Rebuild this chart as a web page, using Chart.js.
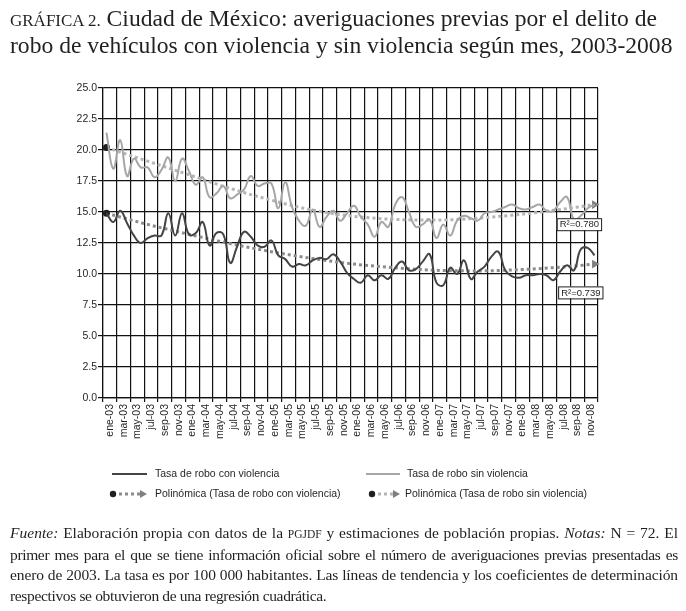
<!DOCTYPE html>
<html>
<head>
<meta charset="utf-8">
<script src="https://cdn.jsdelivr.net/npm/chart.js@4.4.1/dist/chart.umd.min.js"></script>
<style>
  body { margin: 0; background: #fff; }
  #page { position: relative; width: 686px; height: 611px; overflow: hidden; color: #231f20; }
  #chart { position: absolute; left: 0; top: 0; }
  #title { position: absolute; left: 10px; top: 6px; font-family: "Liberation Serif", serif; font-size: 23.6px; line-height: 25px; white-space: nowrap; }
  #title .sc { font-size: 17px; }
  #note { position: absolute; left: 10px; top: 523px; width: 668px; font-family: "Liberation Serif", serif; font-size: 15.5px; letter-spacing: -0.35px; line-height: 20.5px; }
  #note div { text-align: justify; text-align-last: justify; white-space: nowrap; }
  #note div.l1 { letter-spacing: 0.02px; }
  #note div.l3 { letter-spacing: -0.1px; }
  #note div.last { text-align-last: left; }
  #note .sc { font-size: 11.5px; letter-spacing: 0; }
</style>
</head>
<body>
<div id="page">
  <canvas id="chart" width="686" height="611"></canvas>
  <div id="title"><span class="sc">GRÁFICA 2.</span> Ciudad de México: averiguaciones previas por el delito de<br>robo de vehículos con violencia y sin violencia según mes, 2003-2008</div>
  <div id="note">
    <div class="l1"><i>Fuente:</i> Elaboración propia con datos de la <span class="sc">PGJDF</span> y estimaciones de población propias. <i>Notas:</i> N = 72. El</div>
    <div>primer mes para el que se tiene información oficial sobre el número de averiguaciones previas presentadas es</div>
    <div class="l3">enero de 2003. La tasa es por 100 000 habitantes. Las líneas de tendencia y los coeficientes de determinación</div>
    <div class="last">respectivos se obtuvieron de una regresión cuadrática.</div>
  </div>
</div>
<script>
// month labels, ene-03 ... dic-08
const MONTHS = ['ene', 'feb', 'mar', 'abr', 'may', 'jun', 'jul', 'ago', 'sep', 'oct', 'nov', 'dic'];
const YEARS = ['03', '04', '05', '06', '07', '08'];
const months = [];
YEARS.forEach(y => MONTHS.forEach(m => months.push(m + '-' + y)));

// rates per 100 000
const conViolencia = [
    14.9, 14.2, 15.1, 14.1, 13.1, 12.5, 12.9, 13.1, 13.1, 14.9, 13.1, 14.9,
    13.2, 13.3, 14.2, 12.3, 13.3, 13.2, 10.9, 12.2, 13.4, 13.0, 12.3, 12.2,
    12.7, 11.5, 11.2, 10.6, 10.8, 10.7, 11.1, 11.3, 11.2, 11.6, 11.0, 10.1,
    9.6, 9.3, 9.9, 9.5, 9.9, 9.6, 10.5, 11.0, 10.3, 10.4, 11.0, 11.6,
    9.3, 9.1, 10.5, 10.0, 11.1, 9.6, 10.2, 10.6, 11.4, 11.8, 10.3, 9.8,
    9.7, 9.9, 9.9, 10.0, 9.9, 9.5, 10.2, 10.7, 10.3, 12.0, 12.1, 11.5
];
const sinViolencia = [
    21.4, 18.5, 20.8, 17.9, 19.3, 18.6, 18.6, 17.8, 18.4, 19.4, 17.5, 19.3,
    18.3, 17.2, 17.8, 16.2, 16.5, 17.1, 16.1, 16.4, 16.8, 17.9, 17.1, 17.3,
    17.3, 15.3, 17.4, 15.4, 14.3, 13.9, 15.2, 13.8, 14.6, 15.1, 14.3, 14.9,
    15.5, 14.6, 14.0, 13.0, 14.2, 13.8, 15.6, 16.2, 15.0, 13.8, 14.0, 14.4,
    12.9, 14.0, 13.1, 14.3, 14.7, 14.5, 14.3, 14.9, 15.0, 15.2, 15.4, 15.6,
    15.3, 15.2, 15.4, 15.6, 15.1, 15.1, 15.8, 16.2, 14.4, 14.7, 15.3, 15.6
];

// quadratic trend lines, read at every sixth month
const trendMonths = [0, 6, 12, 18, 24, 30, 36, 42, 48, 54, 60, 66, 71];
const trendCon = [14.9, 14.0, 13.2, 12.45, 11.8, 11.25, 10.8, 10.5, 10.3, 10.25, 10.35, 10.55, 10.8];
const trendSin = [20.2, 19.1, 18.0, 16.9, 15.95, 15.15, 14.65, 14.4, 14.35, 14.5, 14.8, 15.2, 15.6];

const r2Labels = ['R\u00b2=0.739', 'R\u00b2=0.780'];
const r2Anchors = [[65.7, 9.0], [65.5, 14.5]];   // top-left corner, data units

const yTicks = [0, 2.5, 5, 7.5, 10, 12.5, 15, 17.5, 20, 22.5, 25];

const INK = '#231f20';
const SANS = '"Liberation Sans", Arial, sans-serif';

function trendPoints(values) {
    return trendMonths.map((m, k) => ({ x: m, y: values[k] }));
}

function trendDataset(label, values, color) {
    const last = values.length - 1;
    return {
        label,
        data: trendPoints(values),
        borderColor: color,
        borderWidth: 3,
        borderDash: [3, 3],
        cubicInterpolationMode: 'monotone',
        clip: false,
        pointStyle: c => c.dataIndex === last ? 'triangle' : 'circle',
        rotation: c => c.dataIndex === last ? 90 : 0,
        pointRadius: c => c.dataIndex === 0 ? 3.5 : (c.dataIndex === last ? 5 : 0),
        pointBackgroundColor: c => c.dataIndex === 0 ? INK : '#808080',
        pointBorderWidth: 0
    };
}

const r2Plugin = {
    id: 'r2',
    afterDatasetsDraw(chart) {
        const { ctx, scales: { x, y } } = chart;
        ctx.save();
        ctx.font = '9.5px ' + SANS;
        ctx.textBaseline = 'middle';
        r2Labels.forEach((txt, i) => {
            const px = x.getPixelForValue(r2Anchors[i][0]);
            const py = y.getPixelForValue(r2Anchors[i][1]);
            const w = ctx.measureText(txt).width + 5;
            ctx.fillStyle = '#fff';
            ctx.fillRect(px, py, w, 12);
            ctx.strokeStyle = INK;
            ctx.lineWidth = 1;
            ctx.strokeRect(px + 0.5, py + 0.5, w, 12);
            ctx.fillStyle = INK;
            ctx.fillText(txt, px + 3, py + 6.5);
        });
        ctx.restore();
    }
};

const legendPlugin = {
    id: 'customLegend',
    afterDraw(chart) {
        const { ctx } = chart;
        const ds = chart.data.datasets;
        const items = [
            { d: ds[0], x0: 112, x1: 147, tx: 155, y: 474 },
            { d: ds[1], x0: 366, x1: 400, tx: 407, y: 474 },
            { d: ds[2], x0: 113, x1: 147, tx: 155, y: 494, trend: true },
            { d: ds[3], x0: 372, x1: 400, tx: 405, y: 494, trend: true }
        ];
        ctx.save();
        items.forEach(it => {
            ctx.strokeStyle = it.d.borderColor;
            ctx.lineWidth = it.trend ? 3 : 2;
            ctx.setLineDash(it.trend ? [3, 3] : []);
            ctx.beginPath();
            ctx.moveTo(it.x0, it.y);
            ctx.lineTo(it.trend ? it.x1 - 5 : it.x1, it.y);
            ctx.stroke();
            ctx.setLineDash([]);
            if (it.trend) {
                ctx.fillStyle = INK;
                ctx.beginPath();
                ctx.arc(it.x0, it.y, 3.2, 0, Math.PI * 2);
                ctx.fill();
                ctx.fillStyle = '#808080';
                ctx.beginPath();
                ctx.moveTo(it.x1, it.y);
                ctx.lineTo(it.x1 - 7, it.y - 4);
                ctx.lineTo(it.x1 - 7, it.y + 4);
                ctx.closePath();
                ctx.fill();
            }
            ctx.fillStyle = INK;
            ctx.font = '10.5px ' + SANS;
            ctx.textBaseline = 'middle';
            ctx.fillText(it.d.label, it.tx, it.y + 0.5);
        });
        ctx.restore();
    }
};

new Chart(document.getElementById('chart'), {
    type: 'line',
    data: {
        datasets: [
            {
                label: 'Tasa de robo con violencia',
                data: conViolencia.map((v, i) => ({ x: i, y: v })),
                borderColor: '#444444',
                borderWidth: 2,
                tension: 0.45,
                pointRadius: 0
            },
            {
                label: 'Tasa de robo sin violencia',
                data: sinViolencia.map((v, i) => ({ x: i, y: v })),
                borderColor: '#a6a6a6',
                borderWidth: 2,
                tension: 0.45,
                pointRadius: 0
            },
            trendDataset('Polinómica (Tasa de robo con violencia)', trendCon, '#8c8c8c'),
            trendDataset('Polinómica (Tasa de robo sin violencia)', trendSin, '#b5b5b5')
        ]
    },
    options: {
        responsive: false,
        animation: false,
        events: [],
        layout: { padding: { top: 88, right: 88, left: 0, bottom: 0 } },
        plugins: { legend: { display: false }, tooltip: { enabled: false } },
        scales: {
            x: {
                type: 'linear',
                min: -0.5,
                max: months.length - 0.5,
                afterBuildTicks: s => {
                    s.ticks = [];
                    for (let i = 0; i <= months.length; i += 2) s.ticks.push({ value: i - 0.5 });
                },
                afterFit: s => { s.height = 213; },
                grid: { color: '#111', lineWidth: 1.2, tickLength: 4 },
                border: { color: '#111', width: 1.2 },
                ticks: {
                    autoSkip: false,
                    minRotation: 90,
                    maxRotation: 90,
                    labelOffset: 6.875,
                    padding: 2,
                    color: INK,
                    font: { family: SANS, size: 10.5 },
                    callback: v => months[v + 0.5] || ''
                }
            },
            y: {
                min: 0,
                max: 25,
                afterBuildTicks: s => { s.ticks = yTicks.map(v => ({ value: v })); },
                afterFit: s => { s.width = 103; },
                grid: { color: '#111', lineWidth: 1.2, tickLength: 5 },
                border: { color: '#111', width: 1.2 },
                ticks: {
                    padding: 1,
                    color: INK,
                    font: { family: SANS, size: 10.5 },
                    callback: v => v.toFixed(1)
                }
            }
        }
    },
    plugins: [r2Plugin, legendPlugin]
});
</script>
</body>
</html>
